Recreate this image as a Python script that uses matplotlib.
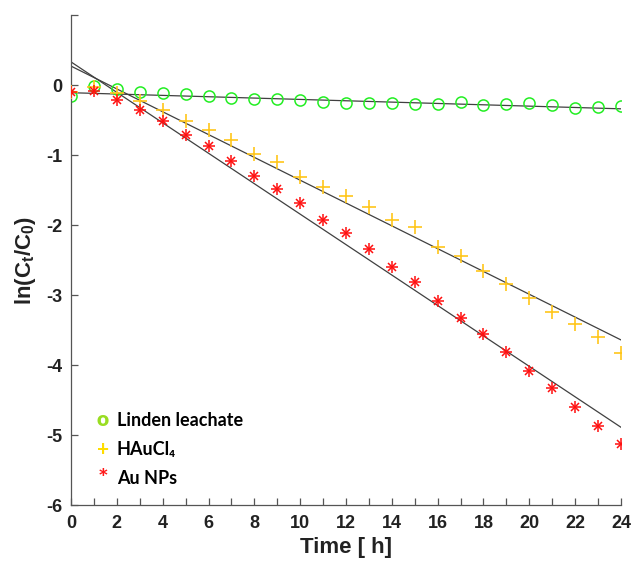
import matplotlib.pyplot as plt
import numpy as np

plt.rcParams['font.family'] = ['Liberation Sans', 'DejaVu Sans']
plt.rcParams['font.weight'] = 'bold'
plt.rcParams['mathtext.fontset'] = 'custom'
plt.rcParams['mathtext.bf'] = 'Liberation Sans:bold'
plt.rcParams['mathtext.rm'] = 'Liberation Sans:bold'
plt.rcParams['mathtext.default'] = 'bf'

time_h = np.arange(0, 25)

linden = [-0.15, -0.01, -0.05, -0.10, -0.11, -0.13, -0.16, -0.19, -0.20, -0.20,
          -0.22, -0.24, -0.26, -0.26, -0.26, -0.27, -0.27, -0.24, -0.29, -0.27,
          -0.26, -0.29, -0.33, -0.31, -0.30]
haucl4 = [-0.10, -0.03, -0.11, -0.23, -0.36, -0.51, -0.64, -0.79, -0.99, -1.10,
          -1.32, -1.46, -1.59, -1.74, -1.93, -2.03, -2.31, -2.44, -2.65, -2.84,
          -3.04, -3.24, -3.41, -3.60, -3.83]
au_nps = [-0.10, -0.09, -0.22, -0.35, -0.52, -0.72, -0.87, -1.09, -1.30, -1.49,
          -1.69, -1.93, -2.11, -2.34, -2.60, -2.82, -3.08, -3.33, -3.55, -3.81,
          -4.09, -4.33, -4.60, -4.87, -5.13]

# linear fits (intercept, slope)
fit_linden = (-0.11, -0.0096)
fit_haucl4 = (0.27, -0.163)
fit_au = (0.33, -0.2175)

fig = plt.figure(figsize=(6.34, 5.62), dpi=100)
ax = fig.add_axes([71/634, 57/562, 550/634, 490/562])

line_c = '#404040'
for b, m in [fit_linden, fit_haucl4, fit_au]:
    ax.plot(time_h, b + m * time_h, color=line_c, lw=0.9, zorder=1)

ax.plot(time_h, linden, 'o', mfc='none', mec='#22ee22', ms=8, mew=1.1, zorder=2)
ax.plot(time_h, haucl4, '+', color='#ffc61a', ms=10, mew=1.2, zorder=3)
ax.plot(time_h, au_nps, '+', color='#ff1010', ms=8, mew=1.1, zorder=4)
ax.plot(time_h, au_nps, 'x', color='#ff1010', ms=6, mew=1.1, zorder=4)

ax.set_xlim(0, 24)
ax.set_ylim(-6, 1)
ax.set_xticks(np.arange(0, 25))
ax.set_xticklabels([str(v) if v % 2 == 0 else '' for v in range(25)], fontweight='bold')
ax.set_yticks(np.arange(-6, 2))
ax.set_yticklabels([str(v) if v <= 0 else '' for v in range(-6, 2)], fontweight='bold')

for s in ['top', 'right']:
    ax.spines[s].set_visible(False)
for s in ['left', 'bottom']:
    ax.spines[s].set_color('#555555')
    ax.spines[s].set_linewidth(0.9)
ax.tick_params(direction='in', length=5, width=0.9, color='#555555',
               labelsize=13, labelcolor='#222222')
ax.tick_params(axis='x', pad=7)
ax.tick_params(axis='y', pad=6)

ax.set_xlabel('Time [ h]', fontsize=16, fontweight='bold', color='#222222', labelpad=4)
ax.set_ylabel(r'ln(C$_t$/C$_0$)', fontsize=16, fontweight='bold', color='#222222', labelpad=6)

# hand-made legend
leg_font = ['Lato', 'DejaVu Sans']
fig.text(103/634, 1 - 420/562, 'o', color='#99dd22', fontsize=15, fontweight='heavy',
         ha='center', va='center', family=leg_font)
fig.text(103/634, 1 - 450/562, '+', color='#ffdd00', fontsize=15, fontweight='bold',
         ha='center', va='center', family=leg_font)
fig.text(103/634, 1 - 480/562, '*', color='#ff1a1a', fontsize=18, fontweight='bold',
         ha='center', va='center', family=leg_font)
fig.text(117/634, 1 - 426/562, 'Linden leachate', fontsize=13, fontweight='bold',
         va='baseline', family=leg_font)
fig.text(117/634, 1 - 455/562, 'HAuCl\u2084', fontsize=13, fontweight='bold',
         va='baseline', family=leg_font)
fig.text(117/634, 1 - 484/562, 'Au NPs', fontsize=13, fontweight='bold',
         va='baseline', family=leg_font)

fig.savefig('out.png', dpi=100)
